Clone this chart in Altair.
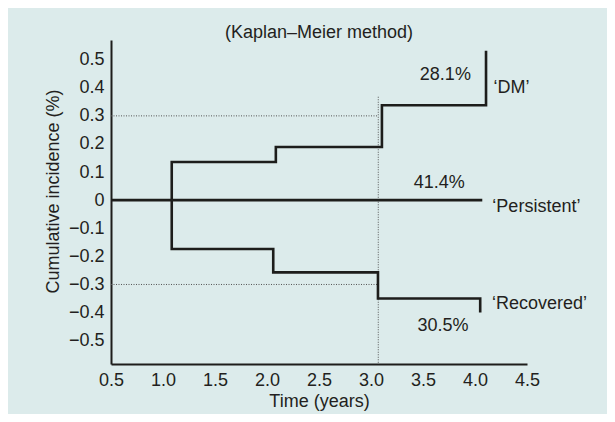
import altair as alt
import pandas as pd

# ---- data ----
x_ticks = [0.5, 1.0, 1.5, 2.0, 2.5, 3.0, 3.5, 4.0, 4.5]
y_ticks = [-0.5, -0.4, -0.3, -0.2, -0.1, 0.0, 0.1, 0.2, 0.3, 0.4, 0.5]

dm_time = [1.084, 1.084, 2.085, 3.105, 4.106]
dm_inc = [0.0, 0.136, 0.189, 0.338, 0.532]

rec_time = [1.084, 1.084, 2.06, 3.067, 4.05]
rec_inc = [0.0, -0.174, -0.257, -0.35, -0.40]

pers_time = [0.5, 4.07]
pers_inc = [0.0, 0.0]

ref_levels = [0.3, -0.3]
ref_time = [3.07]
ref_top = [0.368]

center_text = ["28.1%", "41.4%", "30.5%"]
center_x = [3.715, 3.657, 3.692]
center_y = [0.447, 0.061, -0.449]

left_text = ["\u2018DM\u2019", "\u2018Persistent\u2019", "\u2018Recovered\u2019"]
left_x = [4.177, 4.167, 4.164]
left_y = [0.398, -0.024, -0.368]

X_DOMAIN = [0.5, 4.5]
Y_DOMAIN = [-0.583, 0.57]

FONT = "Liberation Sans"
INK = "#1d1d1b"
TXT = "#231f20"
FS = 18

# ---- tables ----
rows = []
for name, ts, vs in [("DM", dm_time, dm_inc), ("Recovered", rec_time, rec_inc),
                     ("Persistent", pers_time, pers_inc)]:
    for i, (t, v) in enumerate(zip(ts, vs)):
        rows.append({"series": name, "idx": i, "time": t, "inc": v})
lines_df = pd.DataFrame(rows)

hrule_df = pd.DataFrame({"inc": ref_levels, "x0": [X_DOMAIN[0]] * 2, "x1": ref_time * 2})
vrule_df = pd.DataFrame({"time": ref_time, "top": ref_top, "bottom": [Y_DOMAIN[0]]})
center_df = pd.DataFrame({"label": center_text, "time": center_x, "inc": center_y})
left_df = pd.DataFrame({"label": left_text, "time": left_x, "inc": left_y})

xscale = alt.Scale(domain=X_DOMAIN, nice=False, zero=False)
yscale = alt.Scale(domain=Y_DOMAIN, nice=False, zero=False)

x_axis = alt.Axis(values=x_ticks, format=".1f", title="Time (years)", grid=False, ticks=False,
                  domainColor=INK, domainWidth=2, labelFontSize=FS, labelColor=TXT, labelFont=FONT,
                  labelPadding=7, labelFlush=False, labelOverlap=False, labelBound=False,
                  titleFontSize=FS, titleFont=FONT, titleFontWeight="normal", titleColor=TXT,
                  titleY=37, titleBaseline="middle", titleAlign="center")
y_axis = alt.Axis(values=y_ticks, title="Cumulative incidence (%)", grid=False, ticks=False,
                  labelExpr="datum.value == 0 ? '0' : format(datum.value, '.1f')",
                  domainColor=INK, domainWidth=2, labelFontSize=FS, labelColor=TXT, labelFont=FONT,
                  labelPadding=7, labelFlush=False, labelOverlap=False, labelBound=False,
                  titleFontSize=FS, titleFont=FONT, titleFontWeight="normal", titleColor=TXT,
                  titleX=-58, titleY=151, titleAngle=-90, titleBaseline="middle", titleAlign="center")

hrules = alt.Chart(hrule_df).mark_rule(color="#555555", strokeWidth=1, strokeDash=[1, 1.5]).encode(
    x=alt.X("x0:Q", scale=xscale, axis=x_axis),
    x2="x1:Q",
    y=alt.Y("inc:Q", scale=yscale, axis=y_axis),
)
vrule = alt.Chart(vrule_df).mark_rule(color="#555555", strokeWidth=1, strokeDash=[1, 1.5]).encode(
    x=alt.X("time:Q", scale=xscale, axis=x_axis),
    y=alt.Y("top:Q", scale=yscale, axis=y_axis),
    y2="bottom:Q",
)
lines = alt.Chart(lines_df).mark_line(interpolate="step-after", color=INK, strokeWidth=2.6,
                                      strokeCap="butt").encode(
    x=alt.X("time:Q", scale=xscale, axis=x_axis),
    y=alt.Y("inc:Q", scale=yscale, axis=y_axis),
    detail="series:N",
    order="idx:Q",
)
ctext = alt.Chart(center_df).mark_text(font=FONT, fontSize=FS, color=TXT, align="center",
                                       baseline="middle").encode(
    x=alt.X("time:Q", scale=xscale, axis=x_axis),
    y=alt.Y("inc:Q", scale=yscale, axis=y_axis),
    text="label:N",
)
ltext = alt.Chart(left_df).mark_text(font=FONT, fontSize=FS, color=TXT, align="left",
                                     baseline="middle").encode(
    x=alt.X("time:Q", scale=xscale, axis=x_axis),
    y=alt.Y("inc:Q", scale=yscale, axis=y_axis),
    text="label:N",
)

chart = alt.layer(hrules, vrule, lines, ctext, ltext).properties(
    width=416,
    height=324,
    background="#dcebeb",
    padding={"left": 103, "top": 32, "right": 80, "bottom": 50},
    autosize=alt.AutoSizeParams(type="none"),
    title=alt.TitleParams("(Kaplan\u2013Meier method)", font=FONT, fontSize=FS, fontWeight="normal",
                          color=TXT, anchor="middle", baseline="alphabetic", offset=0, dy=16,
                          frame="group"),
).configure_view(stroke=None)

chart.save("out.html", embed_options={"renderer": "svg", "actions": False})
